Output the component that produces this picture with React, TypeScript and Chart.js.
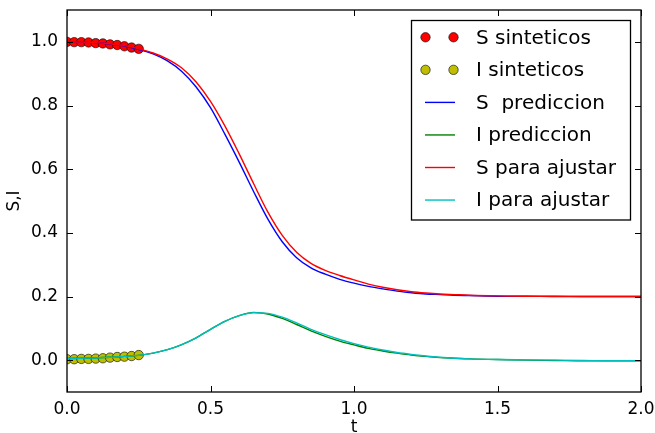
import React, { useEffect, useRef } from "react";
import { Chart, registerables } from "chart.js";

Chart.register(...registerables);

const tGrid = [0, 0.05, 0.1, 0.15, 0.2, 0.25, 0.3, 0.35, 0.4, 0.45, 0.5, 0.55, 0.6, 0.65, 0.7, 0.75, 0.8, 0.85, 0.9, 0.95, 1.0, 1.05, 1.1, 1.15, 1.2, 1.25, 1.3, 1.35, 1.4, 1.5, 1.6, 1.7, 1.8, 1.9, 2.0];

const sPrediccion = [1.0, 0.999, 0.997, 0.993, 0.987, 0.976, 0.962, 0.94, 0.907, 0.858, 0.793, 0.71, 0.622, 0.53, 0.443, 0.372, 0.322, 0.29, 0.27, 0.254, 0.242, 0.232, 0.224, 0.217, 0.212, 0.208, 0.206, 0.204, 0.203, 0.201, 0.201, 0.2, 0.2, 0.2, 0.2];
const iPrediccion = [0.005, 0.006, 0.007, 0.009, 0.012, 0.015, 0.022, 0.033, 0.049, 0.07, 0.097, 0.122, 0.14, 0.15, 0.145, 0.131, 0.112, 0.092, 0.075, 0.06, 0.048, 0.037, 0.029, 0.022, 0.016, 0.012, 0.008, 0.006, 0.004, 0.002, 0.0, -0.001, -0.002, -0.002, -0.002];
const sAjustar = [1.0, 0.999, 0.997, 0.994, 0.988, 0.978, 0.965, 0.946, 0.918, 0.874, 0.813, 0.736, 0.648, 0.555, 0.465, 0.392, 0.339, 0.304, 0.282, 0.266, 0.252, 0.239, 0.229, 0.221, 0.215, 0.211, 0.208, 0.206, 0.204, 0.202, 0.201, 0.201, 0.2, 0.2, 0.2];
const iAjustar = [0.005, 0.006, 0.007, 0.009, 0.012, 0.015, 0.022, 0.033, 0.049, 0.07, 0.097, 0.122, 0.14, 0.149, 0.147, 0.135, 0.117, 0.097, 0.08, 0.065, 0.052, 0.041, 0.032, 0.024, 0.018, 0.013, 0.009, 0.006, 0.004, 0.002, 0.001, 0.0, -0.001, -0.002, -0.002];

const tSinteticos = [0, 0.025, 0.05, 0.075, 0.1, 0.125, 0.15, 0.175, 0.2, 0.225, 0.25];
const sSinteticos = [1.0, 0.999, 0.999, 0.998, 0.996, 0.995, 0.992, 0.99, 0.986, 0.982, 0.978];
const iSinteticos = [0.003, 0.003, 0.004, 0.004, 0.005, 0.006, 0.008, 0.01, 0.011, 0.013, 0.016];

const xTicks = [0, 0.5, 1.0, 1.5, 2.0];
const yTicks = [0, 0.2, 0.4, 0.6, 0.8, 1.0];

const FONT = "'DejaVu Sans', sans-serif";

const pts = (xs: number[], ys: number[]) => xs.map((x, i) => ({ x, y: ys[i] }));

const framePlugin = {
  id: "framePlugin",
  afterDatasetsDraw(chart: any) {
    const { ctx, chartArea: a, scales } = chart;
    ctx.save();
    ctx.strokeStyle = "#000";
    ctx.lineWidth = 1.3;
    ctx.strokeRect(a.left, a.top, a.right - a.left, a.bottom - a.top);
    const tl = 6;
    ctx.lineWidth = 1;
    ctx.beginPath();
    yTicks.forEach((v) => {
      const y = Math.round(scales.y.getPixelForValue(v)) + 0.5;
      ctx.moveTo(a.left, y);
      ctx.lineTo(a.left + tl, y);
      ctx.moveTo(a.right, y);
      ctx.lineTo(a.right - tl, y);
    });
    xTicks.forEach((v) => {
      const x = Math.round(scales.x.getPixelForValue(v)) + 0.5;
      ctx.moveTo(x, a.bottom);
      ctx.lineTo(x, a.bottom - tl);
      ctx.moveTo(x, a.top);
      ctx.lineTo(x, a.top + tl);
    });
    ctx.stroke();
    ctx.restore();
  },
  afterDraw(chart: any) {
    const { ctx } = chart;
    const ds = chart.data.datasets;
    const order = [0, 1, 2, 3, 4, 5];
    const bx = 411.5, by = 20.5, bw = 219, bh = 199.5;
    ctx.save();
    ctx.fillStyle = "#fff";
    ctx.fillRect(bx, by, bw, bh);
    ctx.strokeStyle = "#000";
    ctx.lineWidth = 1.3;
    ctx.strokeRect(bx, by, bw, bh);
    ctx.font = `20px ${FONT}`;
    ctx.textBaseline = "middle";
    order.forEach((idx, k) => {
      const d = ds[idx];
      const cy = 37.3 + k * 32.55;
      if (d.showLine === false) {
        [425.5, 453.5].forEach((mx) => {
          ctx.beginPath();
          ctx.arc(mx, cy, d.pointRadius, 0, Math.PI * 2);
          ctx.fillStyle = d.backgroundColor;
          ctx.fill();
          ctx.lineWidth = d.borderWidth;
          ctx.strokeStyle = d.borderColor;
          ctx.stroke();
        });
      } else {
        ctx.beginPath();
        ctx.moveTo(425, cy);
        ctx.lineTo(455, cy);
        ctx.strokeStyle = d.borderColor;
        ctx.lineWidth = d.borderWidth;
        ctx.stroke();
      }
      ctx.fillStyle = "#000";
      ctx.fillText(d.label, 476, cy + 1);
    });
    ctx.restore();
  },
};

export default function App() {
  const ref = useRef<HTMLCanvasElement | null>(null);
  useEffect(() => {
    document.body.style.margin = "0";
    const canvas = ref.current!;
    const lineDs = (label: string, ys: number[], color: string, order: number) => ({
      label,
      data: pts(tGrid, ys),
      borderColor: color,
      backgroundColor: color,
      borderWidth: 1.4,
      pointRadius: 0,
      showLine: true,
      cubicInterpolationMode: "monotone" as const,
      order,
    });
    const chart = new Chart(canvas, {
      type: "scatter",
      data: {
        datasets: [
          {
            label: "S sinteticos",
            data: pts(tSinteticos, sSinteticos),
            backgroundColor: "#ff0000",
            borderColor: "#000",
            borderWidth: 0.6,
            pointRadius: 4.7,
            showLine: false,
            order: 6,
          },
          {
            label: "I sinteticos",
            data: pts(tSinteticos, iSinteticos),
            backgroundColor: "#bfbf00",
            borderColor: "#000",
            borderWidth: 0.6,
            pointRadius: 4.7,
            showLine: false,
            order: 5,
          },
          lineDs("S  prediccion", sPrediccion, "#0000ff", 4),
          lineDs("I prediccion", iPrediccion, "#008000", 3),
          lineDs("S para ajustar", sAjustar, "#ff0000", 2),
          lineDs("I para ajustar", iAjustar, "#00bfbf", 1),
        ] as any,
      },
      options: {
        animation: false,
        responsive: false,
        maintainAspectRatio: false,
        layout: { padding: { top: 10, right: 14, left: 0, bottom: 0 } },
        plugins: { legend: { display: false }, tooltip: { enabled: false } },
        scales: {
          x: {
            type: "linear",
            min: 0,
            max: 2,
            grid: { display: false, drawTicks: false },
            border: { display: false },
            afterBuildTicks: (axis: any) => {
              axis.ticks = xTicks.map((v) => ({ value: v }));
            },
            afterFit: (axis: any) => {
              axis.height = 41;
              axis.paddingLeft = 0;
              axis.paddingRight = 0;
            },
            ticks: {
              padding: 7,
              color: "#000",
              font: { family: FONT, size: 17 },
              callback: (v: any) => Number(v).toFixed(1),
            },
            title: {
              display: true,
              text: "t",
              color: "#000",
              font: { family: FONT, size: 17, lineHeight: 1 },
              padding: { top: 0, bottom: -3 },
            },
          },
          y: {
            type: "linear",
            min: -0.1,
            max: 1.1,
            grid: { display: false, drawTicks: false },
            border: { display: false },
            afterBuildTicks: (axis: any) => {
              axis.ticks = yTicks.map((v) => ({ value: v }));
            },
            afterFit: (axis: any) => {
              axis.width = 67;
              axis.paddingTop = 0;
              axis.paddingBottom = 0;
            },
            ticks: {
              padding: 9,
              color: "#000",
              font: { family: FONT, size: 17 },
              callback: (v: any) => Number(v).toFixed(1),
            },
            title: {
              display: true,
              text: "S,I",
              color: "#000",
              font: { family: FONT, size: 17 },
              padding: { top: 4, bottom: 0 },
            },
          },
        },
      },
      plugins: [framePlugin],
    });
    return () => chart.destroy();
  }, []);
  return (
    <div style={{ width: 655, height: 433 }}>
      <canvas ref={ref} width={655} height={433} style={{ display: "block" }} />
    </div>
  );
}
